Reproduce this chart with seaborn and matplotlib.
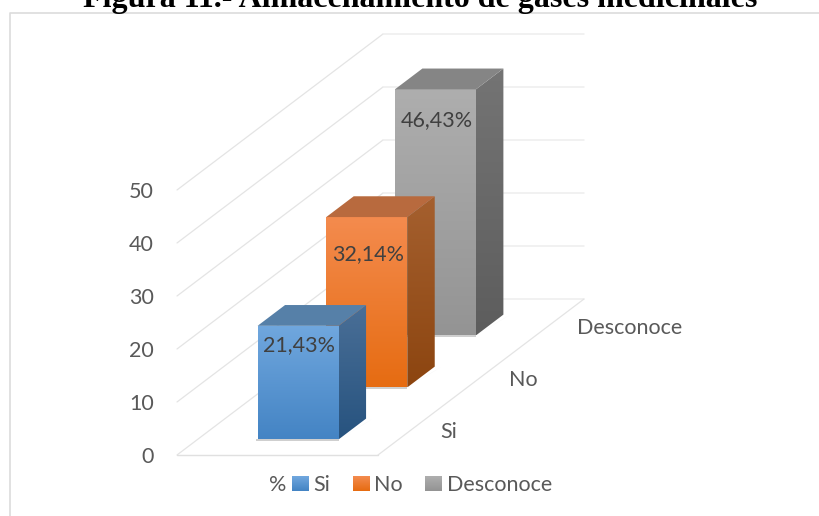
import numpy as np
import pandas as pd
import seaborn as sns
import matplotlib
matplotlib.use('Agg')
import matplotlib.pyplot as plt
from matplotlib.colors import LinearSegmentedColormap
from matplotlib.lines import Line2D
from matplotlib.patches import Polygon

categorias = ['Si', 'No', 'Desconoce']
valores = [21.43, 32.14, 46.43]
etiquetas = ['21,43%', '32,14%', '46,43%']
serie = ['%', '%', '%']
y_ticks = [0, 10, 20, 30, 40, 50]

base = ['#5b9bd5', '#ed7d31', '#a5a5a5']
frente = [('#70a7de', '#4484c4'), ('#f48b4e', '#e66c12'), ('#aeaeae', '#949494')]
lateral = [('#4a6f97', '#27537f'), ('#a5602f', '#8c4510'), ('#747474', '#5d5d5d')]
tapa = ['#5680a8', '#b86a3e', '#858585']

# one depth slot, in data units (x axis is -0.5..0.5, y axis is 0..50)
DX = 0.3416
DY = 9.81
N = len(categorias)
FS = 15.5

sns.set_theme(style='white')
plt.rcParams['font.family'] = ['Lato', 'DejaVu Sans']
GRIS = '#595959'

fig = plt.figure(figsize=(8.19, 5.16), dpi=100)
ax = fig.add_axes([177 / 819, 61 / 516, 201 / 819, 265 / 516])

df = pd.DataFrame({'serie': serie, 'categoria': categorias, 'valor': valores})
sns.barplot(data=df, x='serie', y='valor', hue='categoria', hue_order=categorias,
            palette=base, dodge=False, width=0.403, saturation=1, errorbar=None, ax=ax)
ax.set_xlim(-0.5, 0.5)
ax.set_ylim(0, 50)
ax.set_yticks(y_ticks)
ax.set_xlabel('')
ax.set_ylabel('')
sns.despine(ax=ax, left=True, bottom=True)
ax.tick_params(axis='y', length=0, pad=16.5, labelsize=FS, labelcolor=GRIS)
ax.tick_params(axis='x', length=0, pad=14.5, labelsize=FS, labelcolor=GRIS)
for lab in ax.get_yticklabels():
    lab.set_va('center_baseline')
ax.patch.set_alpha(0)

# walls and floor
for t in y_ticks:
    ax.plot([-0.5, -0.5 + N * DX], [t, t + N * DY], color='#e4e4e4', lw=0.9, clip_on=False, zorder=1)
    ax.plot([-0.5 + N * DX, 0.5 + N * DX], [t + N * DY, t + N * DY], color='#eeeeee', lw=1.1, clip_on=False, zorder=1)
ax.plot([-0.5, 0.5], [0, 0], color='#e0e0e0', lw=1, clip_on=False, zorder=1)
ax.plot([0.5, 0.5 + N * DX], [0, N * DY], color='#e4e4e4', lw=0.9, clip_on=False, zorder=1)


def degradado(xs, ys, colores, z):
    # polygon with a vertical gradient
    cmap = LinearSegmentedColormap.from_list('g', colores)
    poly = Polygon(list(zip(xs, ys)), closed=True, transform=ax.transData, fc='none', ec='none')
    ax.add_patch(poly)
    im = ax.imshow(np.linspace(0, 1, 100).reshape(-1, 1), cmap=cmap, aspect='auto', origin='upper',
                   extent=(min(xs), max(xs), min(ys), max(ys)), zorder=z)
    im.set_clip_box(fig.bbox)
    im.set_clip_path(poly)


desp_etiqueta = [17, 35, 29]  # px under the top of the bar
for i in range(N):
    bar = ax.containers[i][0]
    x0 = bar.get_x() + (i + 0.3) * DX
    w = bar.get_width()
    y0 = (i + 0.3) * DY
    alto = valores[i]
    x1 = x0 + w
    fx = 0.4 * DX
    fy = 0.4 * DY
    z = 10 - 2 * i
    bar.set_x(x0)
    bar.set_y(y0)
    bar.set_zorder(z)
    bar.set_linewidth(0)
    bar.set_clip_on(False)
    # shadow on the floor
    ax.add_patch(Polygon([(x1, y0), (x1 + fx + 0.03, y0 + fy - 0.1), (x1 + fx, y0 + fy - 0.8)],
                         fc='#9a9a9a', ec='none', alpha=0.6, zorder=z - 0.5, clip_on=False))
    ax.add_patch(Polygon([(x0 - 0.01, y0), (x1, y0), (x1, y0 - 0.35), (x0 - 0.01, y0 - 0.35)],
                         fc='#cfcfcf', ec='none', zorder=z - 0.5, clip_on=False))
    degradado([x0, x1, x1, x0], [y0, y0, y0 + alto, y0 + alto], frente[i], z + 0.1)
    degradado([x1, x1 + fx, x1 + fx, x1], [y0, y0 + fy, y0 + fy + alto, y0 + alto], lateral[i], z + 0.1)
    ax.add_patch(Polygon([(x0, y0 + alto), (x1, y0 + alto), (x1 + fx, y0 + fy + alto), (x0 + fx, y0 + fy + alto)],
                         fc=tapa[i], ec='none', zorder=z + 0.2, clip_on=False))
    ax.annotate(etiquetas[i], (x0 + w / 2, y0 + alto), xytext=(1, -desp_etiqueta[i] * 0.72),
                textcoords='offset points', ha='center', va='center_baseline',
                fontsize=FS, color='#404040', zorder=20, annotation_clip=False)
    # category labels on the depth axis
    ax.annotate(categorias[i], (0.5 + (i + 0.5) * DX, (i + 0.5) * DY), xytext=(20, -0.8),
                textcoords='offset points', ha='left', va='center_baseline',
                fontsize=FS, color=GRIS, annotation_clip=False)

ax.set_xlim(-0.5, 0.5)
ax.set_ylim(0, 50)

sns.move_legend(ax, 'center left', bbox_to_anchor=(291.5 / 819, 1 - 485 / 516),
                bbox_transform=fig.transFigure, ncols=3, frameon=False, title=None,
                fontsize=FS, labelcolor=GRIS, handlelength=0.75, handleheight=0.68,
                handletextpad=0.25, columnspacing=1.05, borderpad=0, borderaxespad=0)

# gradient on the legend swatches
fig.canvas.draw()
for h, c in zip(ax.get_legend().get_patches(), frente):
    bb = h.get_window_extent().transformed(fig.transFigure.inverted())
    a = fig.add_axes(bb.bounds)
    a.imshow(np.linspace(0, 1, 20).reshape(-1, 1), cmap=LinearSegmentedColormap.from_list('g', c), aspect='auto')
    a.axis('off')

fig.add_artist(Line2D([9.5 / 819, 9.5 / 819, 1], [0, 1 - 12.5 / 516, 1 - 12.5 / 516], color='#dcdcdc', lw=1.2))
fig.text(420 / 819, 1 - 7 / 516, 'Figura 11.- Almacenamiento de gases medicinales', ha='center', va='baseline',
         family='Liberation Serif', fontweight='bold', fontsize=23, color='black')

fig.savefig('out.png', dpi=100)
